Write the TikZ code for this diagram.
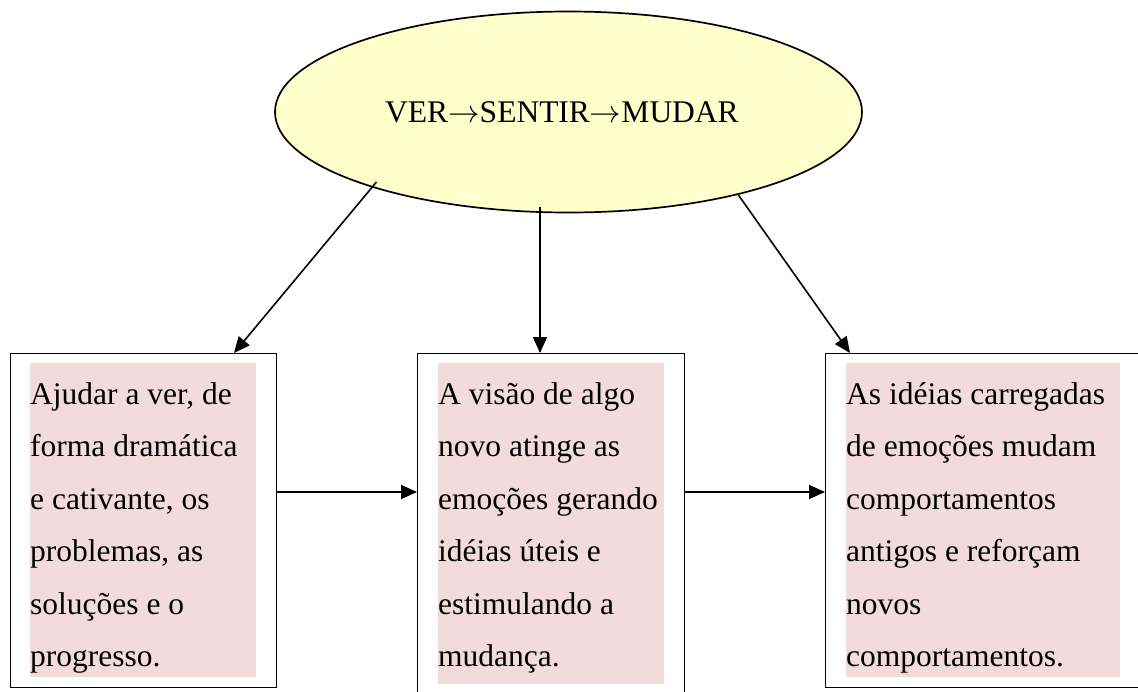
\documentclass[tikz,border=0pt]{standalone}
\usepackage{graphicx}
\usepackage{fontspec}
\setmainfont{Liberation Serif}
\usetikzlibrary{shapes.geometric,arrows.meta,calc}
\definecolor{ellfill}{HTML}{FFFFCC}
\definecolor{pinkbg}{HTML}{F2DCDB}
\newcommand{\flowarrow}{\resizebox{31.5pt}{!}{$\rightarrow$}}
\begin{document}
\begin{tikzpicture}[x=1pt,y=-1pt,
  frame/.style={draw=black, line width=1.3pt, rectangle, inner sep=0pt, anchor=north west},
  hlbg/.style={fill=pinkbg, draw=none, rectangle, inner sep=0pt, anchor=north west},
  txt/.style={inner sep=0pt, anchor=north west, align=left, font=\fontsize{31.5}{52.5}\selectfont},
  arr/.style={line width=1.6pt, -{Triangle[length=16pt,width=14pt]}}]
\clip (0,0) rectangle (1138,691);
\fill[white] (0,0) rectangle (1138,691);
% top ellipse
\node[ellipse, draw=black, line width=1.7pt, fill=ellfill, minimum width=587pt, minimum height=201pt, inner sep=0pt,
      font=\fontsize{31.5}{36}\selectfont] (ell) at (568.5,112) {VER\flowarrow SENTIR\flowarrow MUDAR\hspace*{13pt}};
% pink highlight blocks
\node[hlbg, minimum width=226pt, minimum height=314pt] (p1) at (30,363) {};
\node[hlbg, minimum width=226pt, minimum height=321pt] (p2) at (438,363) {};
\node[hlbg, minimum width=274pt, minimum height=314pt] (p3) at (846,363) {};
% boxes
\node[frame, minimum width=266pt, minimum height=334pt] (b1) at (10,353) {};
\node[frame, minimum width=267pt, minimum height=360pt] (b2) at (417,353) {};
\node[frame, minimum width=340pt, minimum height=334pt] (b3) at (825,353) {};
% texts
\node[txt] (t1) at (30,363) {\rule{0pt}{41pt}Ajudar a ver, de\\forma dramática\\e cativante, os\\problemas, as\\soluções e o\\progresso.};
\node[txt] (t2) at (438,363) {\rule{0pt}{41pt}A visão de algo\\novo atinge as\\emoções gerando\\idéias úteis e\\estimulando a\\mudança.};
\node[txt] (t3) at (846,363) {\rule{0pt}{41pt}As idéias carregadas\\de emoções mudam\\comportamentos\\antigos e reforçam\\novos\\comportamentos.};
% helper coordinates
\coordinate (xa) at (234,0);
\coordinate (xb) at (540,0);
\coordinate (xc) at (850,0);
\coordinate (hy) at (0,492);
% connectors
\draw[arr, shorten <=-7pt] (ell.201) -- (b1.north -| xa);
\draw[arr, shorten <=-6pt] (ell.south -| xb) -- (b2.north -| xb);
\draw[arr] (ell.-26.2) -- (b3.north -| xc);
\draw[arr] (b1.east |- hy) -- (b2.west |- hy);
\draw[arr] (b2.east |- hy) -- (b3.west |- hy);
\end{tikzpicture}
\end{document}
